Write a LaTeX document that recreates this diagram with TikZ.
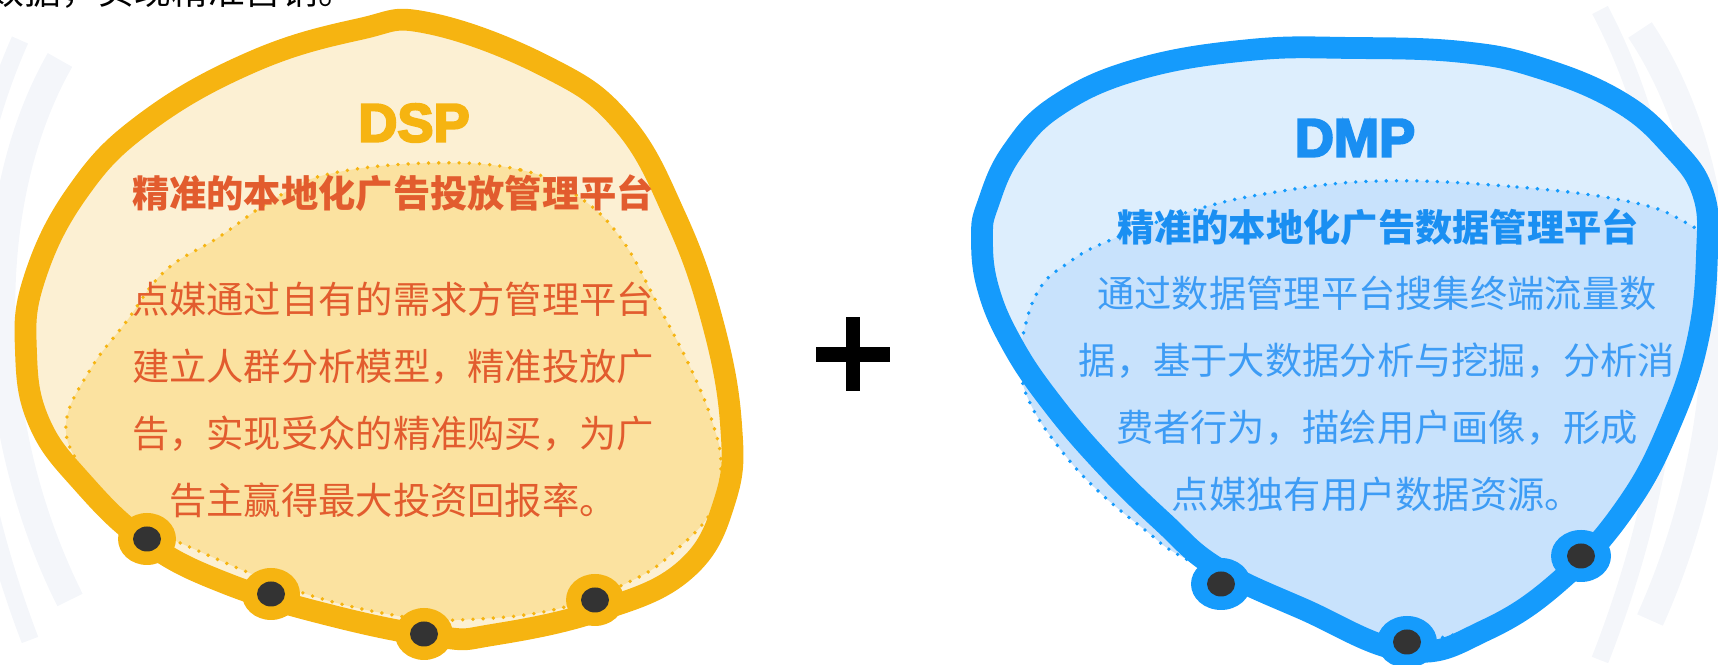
\documentclass[tikz,border=0pt]{standalone}
\usepackage{fontspec}
\setmainfont{Liberation Sans}
\newfontfamily\cjk{Noto Sans CJK SC}
\newfontfamily\headfont[FakeBold=4]{Liberation Sans Bold}
\usepackage{xcolor}
\usetikzlibrary{positioning}

\definecolor{dspRim}{HTML}{F6B411}
\definecolor{dspFill}{HTML}{FCF0D3}
\definecolor{dspCore}{HTML}{FBE2A0}
\definecolor{dspText}{HTML}{E25C2E}
\definecolor{dmpRim}{HTML}{159BFC}
\definecolor{dmpFill}{HTML}{DDEEFD}
\definecolor{dmpCore}{HTML}{C8E2FC}
\definecolor{dmpHead}{HTML}{1A8FF2}
\definecolor{dmpText}{HTML}{3D9CF5}
\definecolor{dotDark}{HTML}{333333}
\definecolor{faint}{HTML}{F4F6FA}

\begin{document}
\begin{tikzpicture}[x=0.01cm,y=-0.01cm,
  rim/.style={line width=6.2pt,line join=round},
  seam/.style={line width=1.1pt,line cap=round,dash pattern=on 0pt off 2.9pt},
  headline/.style={font=\headfont\fontsize{15.4}{16}\selectfont},
  subline/.style={font=\cjk\fontsize{10.6}{12}\selectfont\bfseries},
  bodytext/.style={font=\cjk\fontsize{10.6}{19.1}\selectfont,align=center}]
\useasboundingbox (0,0) rectangle (1718,665);

% faint background arcs
\draw[faint,line width=8pt] (60,60) .. controls (-20,200) and (-20,420) .. (70,600);
\draw[faint,line width=5pt] (20,40) .. controls (-60,220) and (-50,430) .. (30,640);
\draw[faint,line width=8pt] (1640,30) .. controls (1740,180) and (1740,420) .. (1650,620);
\draw[faint,line width=5pt] (1600,10) .. controls (1700,200) and (1690,430) .. (1600,660);

% cut-off line at the top
\node[anchor=base west,inner sep=0pt,font=\cjk\fontsize{10.45}{12}\selectfont] (topline) at (-13,5) {数据，实现精准营销。};

% DSP blob
\fill[dspFill] plot[smooth cycle,tension=0.7] coordinates {
  (428,23) (545,66) (622,122) (675,216) (712,320) (731,424) (725,500)
  (685,570) (598,611) (492,635) (439,637) (333,616) (225,583) (146,542)
  (82,482) (39,422) (26,352) (34,280) (77,193) (145,123) (252,62) (360,29)};
\draw[dspRim,seam,fill=dspCore] plot[smooth cycle,tension=0.7] coordinates {
  (433,163) (521,170) (576,195) (620,237) (658,305) (691,369) (713,424)
  (721,466) (713,509) (675,551) (631,581) (553,610) (457,620) (404,617)
  (300,592) (178,542) (111,510) (82,470) (66,424) (90,370) (126,322)
  (165,271) (219,237) (274,199) (329,174)};
\draw[dspRim,rim] plot[smooth cycle,tension=0.7] coordinates {
  (428,23) (545,66) (622,122) (675,216) (712,320) (731,424) (725,500)
  (685,570) (598,611) (492,635) (439,637) (333,616) (225,583) (146,542)
  (82,482) (39,422) (26,352) (34,280) (77,193) (145,123) (252,62) (360,29)};
\foreach \x/\y in {147/539,271/594,424/634,595/600}{
  \fill[dspRim] (\x,\y) ellipse [x radius=29,y radius=26];
  \fill[dotDark] (\x,\y) ellipse [x radius=14,y radius=12.5];
}

% DMP blob
\fill[dmpFill] plot[smooth cycle,tension=0.7] coordinates {
  (1352,48) (1462,52) (1540,68) (1620,102) (1672,147) (1703,193) (1707,254)
  (1698,339) (1671,422) (1628,504) (1563,578) (1486,630) (1407,651)
  (1303,609) (1217,568) (1163,522) (1104,464) (1051,402) (1012,344)
  (988,288) (982,237) (988,204) (1012,152) (1058,105) (1139,69) (1250,50)};
\draw[dmpRim,seam,fill=dmpCore] plot[smooth cycle,tension=0.7] coordinates {
  (1380,181) (1517,187) (1626,201) (1681,220) (1702,245) (1700,320)
  (1670,420) (1625,510) (1563,583) (1517,610) (1483,627) (1440,638)
  (1407,645) (1300,612) (1188,560) (1145,530) (1095,488) (1057,445)
  (1030,403) (1021,369) (1024,331) (1040,288) (1068,263) (1106,242)
  (1188,212) (1270,193)};
\draw[dmpRim,rim] plot[smooth cycle,tension=0.7] coordinates {
  (1352,48) (1462,52) (1540,68) (1620,102) (1672,147) (1703,193) (1707,254)
  (1698,339) (1671,422) (1628,504) (1563,578) (1486,630) (1407,651)
  (1303,609) (1217,568) (1163,522) (1104,464) (1051,402) (1012,344)
  (988,288) (982,237) (988,204) (1012,152) (1058,105) (1139,69) (1250,50)};
\foreach \x/\y in {1221/584,1407/642,1581/556}{
  \fill[dmpRim] (\x,\y) ellipse [x radius=30,y radius=26];
  \fill[dotDark] (\x,\y) ellipse [x radius=14,y radius=12.5];
}

% plus sign
\fill[black] (816,347) rectangle (890,362);
\fill[black] (846,317) rectangle (860,391);

% texts
\node[headline,text=dspRim] (dsphead) at (414,123) {DSP};
\node[subline,text=dspText] (dsptitle) at (393,193) {精准的本地化广告投放管理平台};
\node[bodytext,text=dspText] (dspbody) at (393,400) {点媒通过自有的需求方管理平台\\建立人群分析模型，精准投放广\\告，实现受众的精准购买，为广\\告主赢得最大投资回报率。};

\node[headline,text=dmpHead] (dmphead) at (1355,138) {DMP};
\node[subline,text=dmpHead] (dmptitle) at (1378,227) {精准的本地化广告数据管理平台};
\node[bodytext,text=dmpText] (dmpbody) at (1377,394) {通过数据管理平台搜集终端流量数\\据，基于大数据分析与挖掘，分析消\\费者行为，描绘用户画像，形成\\点媒独有用户数据资源。};
\end{tikzpicture}
\end{document}
